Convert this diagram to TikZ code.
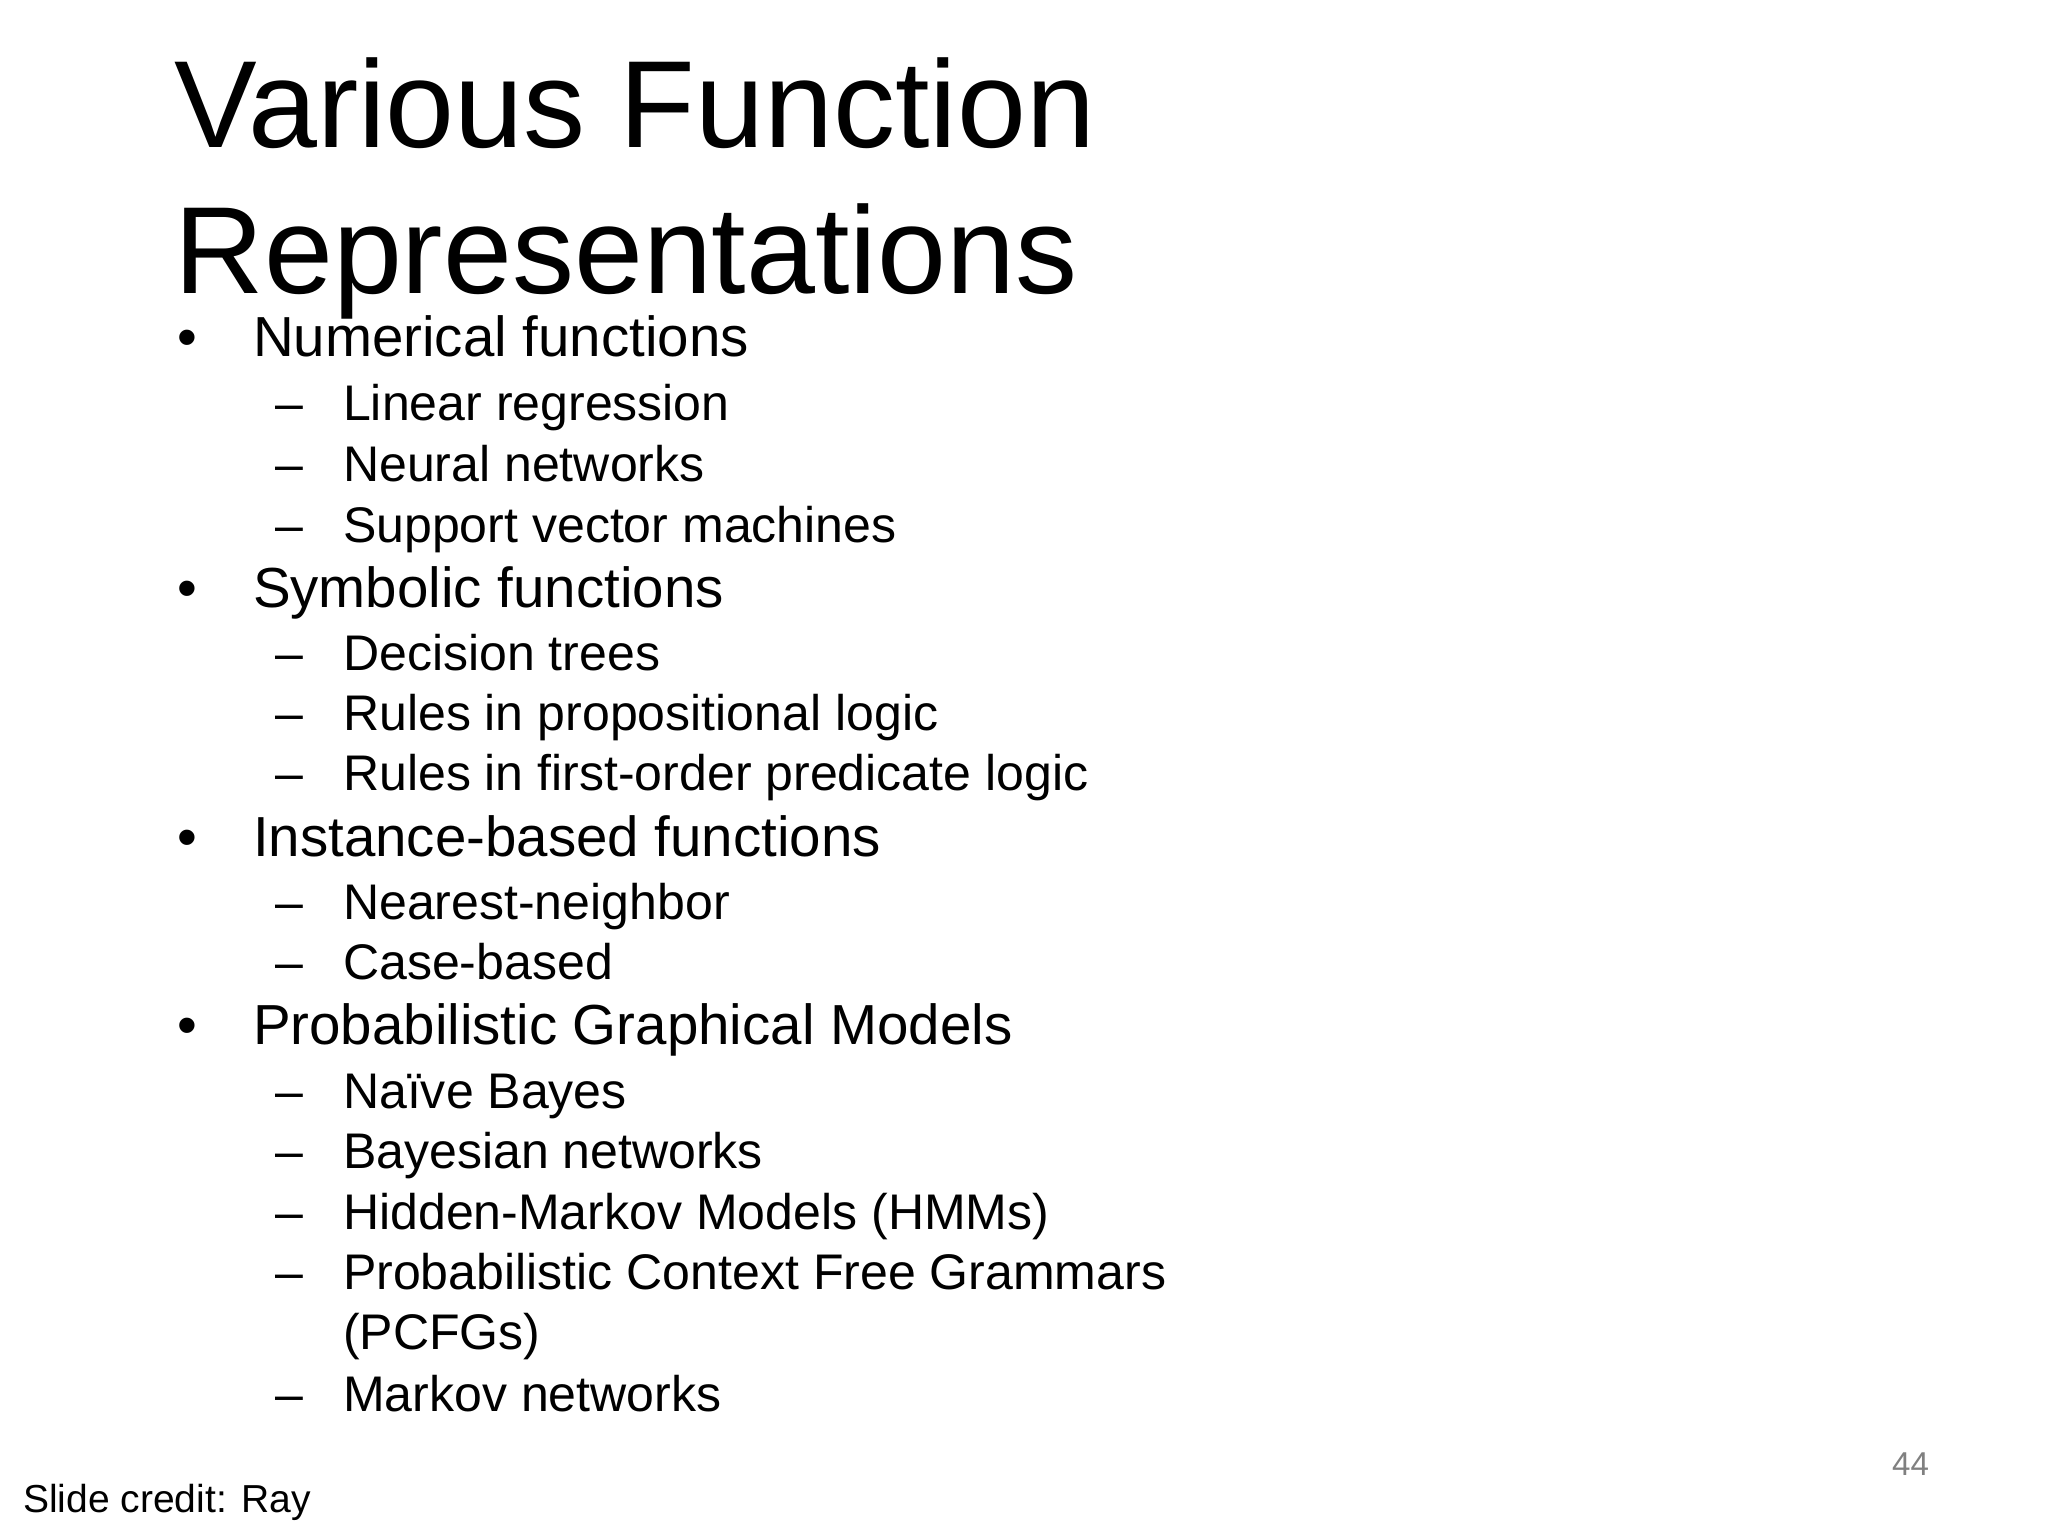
\documentclass[tikz,border=0pt]{standalone}
\usepackage{fontspec}
\setmainfont{Liberation Sans}
\begin{document}
\begin{tikzpicture}[x=1cm,y=-1cm,
  every node/.style={inner sep=0pt,anchor=base west},
  ttl/.style={font=\fontsize{27}{30}\selectfont},
  lvla/.style={font=\fontsize{12.3}{14}\selectfont},
  lvlb/.style={font=\fontsize{10.9}{13}\selectfont}]
\useasboundingbox (0,0) rectangle (15.68,11.76);
\clip (0,0) rectangle (15.68,11.76);
\node[ttl] (t1) at (1.33,1.13) {Various Function};
\node[ttl] (t2) at (1.33,2.25) {Representations};
\foreach \y/\t [count=\i] in {2.73/Numerical functions,4.65/Symbolic functions,6.56/Instance-based functions,8.00/Probabilistic Graphical Models}{
  \node[lvla] (bb\i) at (1.35,\y) {•};
  \node[lvla] (b\i) at (1.93,\y) {\t};
}
\foreach \y/\t [count=\i] in {3.22/Linear regression,3.69/Neural networks,4.15/Support vector machines,5.13/Decision trees,5.59/Rules in propositional logic,6.05/Rules in first-order predicate logic,7.04/Nearest-neighbor,7.50/Case-based,8.49/Naïve Bayes,8.95/Bayesian networks,9.41/Hidden-Markov Models (HMMs),9.87/Probabilistic Context Free Grammars,10.81/Markov networks}{
  \node[lvlb] (dd\i) at (2.10,\y) {–};
  \node[lvlb] (d\i) at (2.62,\y) {\t};
}
\node[lvlb] (pc) at (2.62,10.33) {(PCFGs)};
\node[font=\fontsize{7.2}{9}\selectfont,text=gray] (num) at (14.48,11.30) {44};
\node[font=\fontsize{8.5}{10}\selectfont] (cr1) at (0.17,11.58) {Slide credit: Ray};
\node[font=\fontsize{8.5}{10}\selectfont] (cr2) at (0.17,12.04) {Mooney};
\end{tikzpicture}
\end{document}
